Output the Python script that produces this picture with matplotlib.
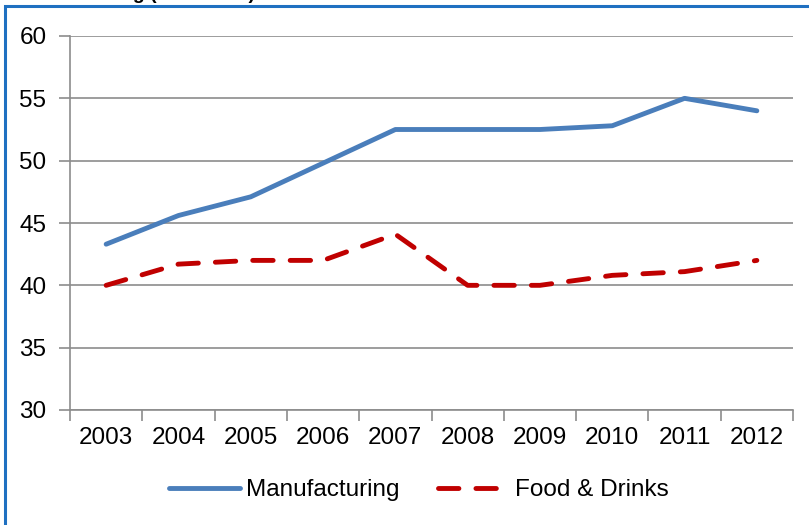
import matplotlib.pyplot as plt
from matplotlib.patches import Rectangle

plt.rcParams['font.family'] = ['Liberation Sans', 'DejaVu Sans']

# data
years = ['2003', '2004', '2005', '2006', '2007', '2008', '2009', '2010', '2011', '2012']
manufacturing = [43.3, 45.6, 47.1, 49.8, 52.5, 52.5, 52.5, 52.8, 55.0, 54.0]
food_drinks = [40.0, 41.7, 42.0, 42.0, 44.1, 40.0, 40.0, 40.8, 41.1, 42.0]

blue = '#4A7EBB'
red = '#C00000'
grid_grey = '#8C8C8C'

fig = plt.figure(figsize=(8.09, 5.25), dpi=100)
ax = fig.add_axes([70 / 809, 1 - 410 / 525, 723 / 809, 374 / 525])

x = list(range(len(years)))
ax.plot(x, manufacturing, color=blue, lw=3.5, solid_capstyle='round',
        solid_joinstyle='round', label='Manufacturing')
ax.plot(x, food_drinks, color=red, lw=3.5, dashes=(4.2, 3.5),
        dash_capstyle='round', dash_joinstyle='round', label='Food & Drinks')

ax.set_xlim(-0.5, len(years) - 0.5)
ax.set_ylim(30, 60)
ax.set_yticks(range(30, 61, 5))
ax.yaxis.grid(True, color=grid_grey, lw=1.2)
ax.set_axisbelow(True)

# tick marks between categories, labels at category centres
ax.set_xticks([i - 0.5 for i in range(len(years) + 1)])
ax.set_xticklabels([])
ax.set_xticks(x, minor=True)
ax.set_xticklabels(years, minor=True)
ax.tick_params(axis='x', which='major', length=8, width=1.2, color=grid_grey, direction='out')
ax.tick_params(axis='x', which='minor', length=0, labelsize=17.5, pad=12)
ax.tick_params(axis='y', length=8, width=1.2, color=grid_grey, labelsize=17.5, pad=9)

for side in ['top', 'right']:
    ax.spines[side].set_visible(False)
for side in ['left', 'bottom']:
    ax.spines[side].set_color(grid_grey)
    ax.spines[side].set_linewidth(1.2)

fig.legend(loc='center', bbox_to_anchor=(419 / 809, 1 - 490 / 525), ncol=2,
           frameon=False, fontsize=17.5, handlelength=2.9, columnspacing=1.6,
           handletextpad=0.25)

# chart frame (cut off at right and bottom in the original)
fig.patches.append(Rectangle((5 / 809, -0.2), 1.2, 1.2 - 5.5 / 525,
                             transform=fig.transFigure, fill=False,
                             edgecolor='#1F70C1', lw=2.2))

# partially visible title above the frame
fig.text(10 / 809, 1.0 + 1 / 525, 'Manufacturing (HUF/MWh)', fontsize=14,
         fontweight='bold', va='baseline', ha='left')

fig.savefig('out.png', dpi=100)
